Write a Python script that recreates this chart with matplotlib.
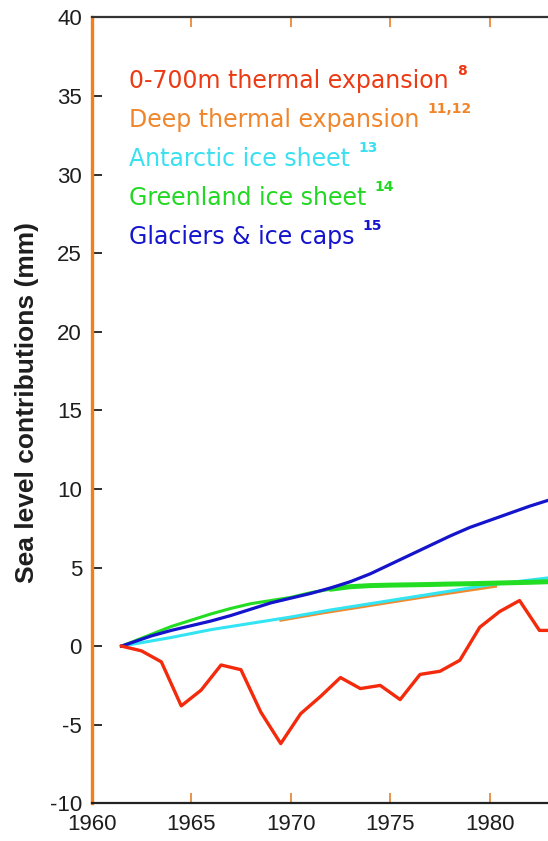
import matplotlib
matplotlib.use('Agg')
import matplotlib.pyplot as plt

plt.rcParams['axes.unicode_minus'] = False

# sea level contributions (mm)
red_years = [1961.5, 1962.5, 1963.5, 1964.5, 1965.5, 1966.5, 1967.5, 1968.5,
             1969.5, 1970.5, 1971.5, 1972.5, 1973.5, 1974.5, 1975.5, 1976.5,
             1977.5, 1978.5, 1979.5, 1980.5, 1981.5, 1982.5, 1983.5]
thermal_700 = [0.0, -0.3, -1.0, -3.8, -2.8, -1.2, -1.5, -4.2,
               -6.2, -4.3, -3.2, -2.0, -2.7, -2.5, -3.4, -1.8,
               -1.6, -0.9, 1.2, 2.2, 2.9, 1.0, 1.0]

ice_years = [1961.5, 1963, 1964, 1965, 1966, 1967, 1968, 1969, 1970, 1971,
             1972, 1973, 1974, 1975, 1976, 1977, 1978, 1979, 1980, 1981,
             1982, 1983]
glaciers = [0.0, 0.65, 1.0, 1.3, 1.6, 1.95, 2.35, 2.75, 3.05, 3.35,
            3.7, 4.1, 4.6, 5.2, 5.8, 6.4, 7.0, 7.55, 8.0, 8.45,
            8.9, 9.3]
greenland = [0.0, 0.75, 1.25, 1.65, 2.05, 2.4, 2.7, 2.9, 3.1, 3.4,
             3.62, 3.78, 3.85, 3.88, 3.9, 3.92, 3.95, 3.97, 4.0, 4.03,
             4.06, 4.1]

ant_years = [1961.5, 1964, 1966, 1968, 1970, 1972, 1974, 1976, 1978, 1980, 1982, 1983]
antarctic = [0.0, 0.55, 1.05, 1.45, 1.85, 2.3, 2.7, 3.1, 3.5, 3.9, 4.2, 4.35]

deep_years = [1969.5, 1971.5, 1974, 1977, 1980.3]
deep_thermal = [1.64, 2.08, 2.58, 3.18, 3.8]

labels = ['0-700m thermal expansion', 'Deep thermal expansion', 'Antarctic ice sheet',
          'Greenland ice sheet', 'Glaciers & ice caps']
refs = ['8', '11,12', '13', '14', '15']

RED, ORANGE, CYAN, GREEN, BLUE = '#f42a0c', '#f08a30', '#33e4f2', '#22dd22', '#1414cc'
TXT_COLORS = ['#ec3a14', '#f0862c', '#38e0f0', '#22d822', '#1414cc']
DARK = '#1e1e1e'

fig = plt.figure(figsize=(5.48, 8.41), dpi=100)
ax = fig.add_axes([0.1673, 0.0448, 0.8327, 0.9346])

ax.plot(deep_years, deep_thermal, color=ORANGE, lw=2.0, zorder=2)
ax.plot(ant_years, antarctic, color=CYAN, lw=2.2, zorder=3)
ax.plot(ice_years, greenland, color=GREEN, lw=2.2, zorder=3)
late = [i for i, y in enumerate(ice_years) if y >= 1972]
ax.plot([ice_years[i] for i in late], [greenland[i] for i in late],
        color=GREEN, lw=3.6, zorder=3, solid_capstyle='round')
ax.plot(ice_years, glaciers, color=BLUE, lw=2.3, zorder=4)
ax.plot(red_years, thermal_700, color=RED, lw=2.4, zorder=5)

ax.set_xlim(1960, 1982.93)
ax.set_ylim(-10, 40)
ax.set_xticks([1960, 1965, 1970, 1975, 1980])
ax.set_yticks(range(-10, 41, 5))

for side in ['left', 'bottom', 'top', 'right']:
    ax.spines[side].set_linewidth(1.6)
ax.spines['left'].set_color('#f47f1a')
ax.spines['left'].set_linewidth(2.4)
ax.spines['bottom'].set_color('#222222')
ax.spines['top'].set_color('#333333')
ax.spines['right'].set_visible(False)

ax.tick_params(axis='y', direction='in', length=7, width=1.3, color=DARK,
               labelsize=16, labelcolor=DARK, pad=7)
ax.tick_params(axis='x', direction='in', length=7, width=1.3, color='#e88a3a',
               labelsize=16, labelcolor=DARK, pad=8, top=True)
for lab in ax.get_xticklabels() + ax.get_yticklabels():
    lab.set_fontfamily('Liberation Sans')

ax.set_ylabel('Sea level contributions (mm)', fontsize=19, fontweight='bold',
              color=DARK, family='Liberation Sans')
ax.yaxis.set_label_coords(-0.115, 0.51)

baselines = [0.910, 0.8604, 0.8108, 0.7612, 0.7116]
for lab, ref, col, yb in zip(labels, refs, TXT_COLORS, baselines):
    t = ax.text(0.0817, yb, lab, transform=ax.transAxes, fontsize=17,
                color=col, va='baseline', ha='left', family='DejaVu Sans')
    ax.annotate(ref, xy=(1, 1), xycoords=t, xytext=(6, 4),
                textcoords='offset points', fontsize=10, fontweight='bold',
                color=col, va='top', ha='left', family='DejaVu Sans')

fig.savefig('out.png', dpi=100)
